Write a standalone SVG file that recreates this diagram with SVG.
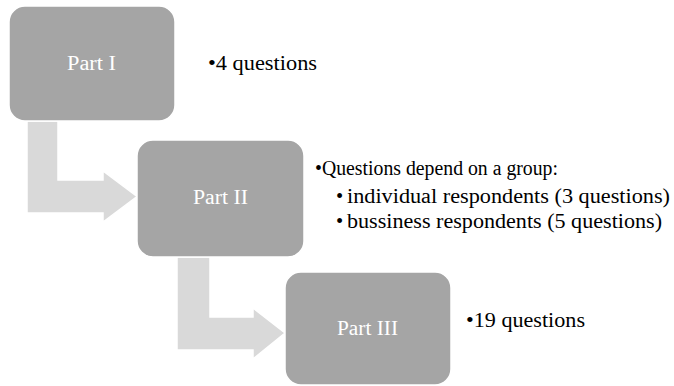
<svg xmlns="http://www.w3.org/2000/svg" width="674" height="386" viewBox="0 0 674 386">
  <style>
    .box { fill: #a5a5a5; stroke: #ffffff; stroke-width: 1.5; }
    .arrow { fill: #d9d9d9; stroke: #ffffff; stroke-width: 1.5; stroke-linejoin: miter; }
    .label { font-family: "Liberation Serif", "DejaVu Serif", serif; font-size: 20px; fill: #ffffff; }
    .note { font-family: "Liberation Serif", "DejaVu Serif", serif; font-size: 20.5px; fill: #000000; }
  </style>
  <rect width="674" height="386" fill="#ffffff"/>

  <!-- bent arrows between the parts -->
  <g id="connectors">
    <path class="arrow" d="M27,121 L58,121 L58,180 L103,180 L103,171 L137,196.5 L103,222 L103,213 L27,213 Z"/>
    <path class="arrow" d="M177,257 L210,257 L210,317 L253,317 L253,308 L285,333 L253,359 L253,350 L177,350 Z"/>
  </g>

  <g id="part1">
    <rect class="box" x="9" y="6" width="166" height="115" rx="16"/>
    <text class="label" x="67" y="70" textLength="49" lengthAdjust="spacingAndGlyphs">Part I</text>
  </g>
  <g id="part1-notes">
    <text class="note" x="208" y="70" textLength="109" lengthAdjust="spacingAndGlyphs">•4 questions</text>
  </g>

  <g id="part2">
    <rect class="box" x="137" y="140" width="167" height="117" rx="16"/>
    <text class="label" x="193" y="204" textLength="55" lengthAdjust="spacingAndGlyphs">Part II</text>
  </g>
  <g id="part2-notes">
    <text class="note" x="315" y="175" textLength="243" lengthAdjust="spacingAndGlyphs">•Questions depend on a group:</text>
    <text class="note" x="336" y="203">•</text>
    <text class="note" x="347" y="203" textLength="323" lengthAdjust="spacingAndGlyphs">individual respondents (3 questions)</text>
    <text class="note" x="336" y="228">•</text>
    <text class="note" x="347" y="228" textLength="315" lengthAdjust="spacingAndGlyphs">bussiness respondents (5 questions)</text>
  </g>

  <g id="part3">
    <rect class="box" x="285" y="272" width="166" height="113" rx="16"/>
    <text class="label" x="337" y="335" textLength="61" lengthAdjust="spacingAndGlyphs">Part III</text>
  </g>
  <g id="part3-notes">
    <text class="note" x="466" y="327" textLength="119" lengthAdjust="spacingAndGlyphs">•19 questions</text>
  </g>
</svg>
